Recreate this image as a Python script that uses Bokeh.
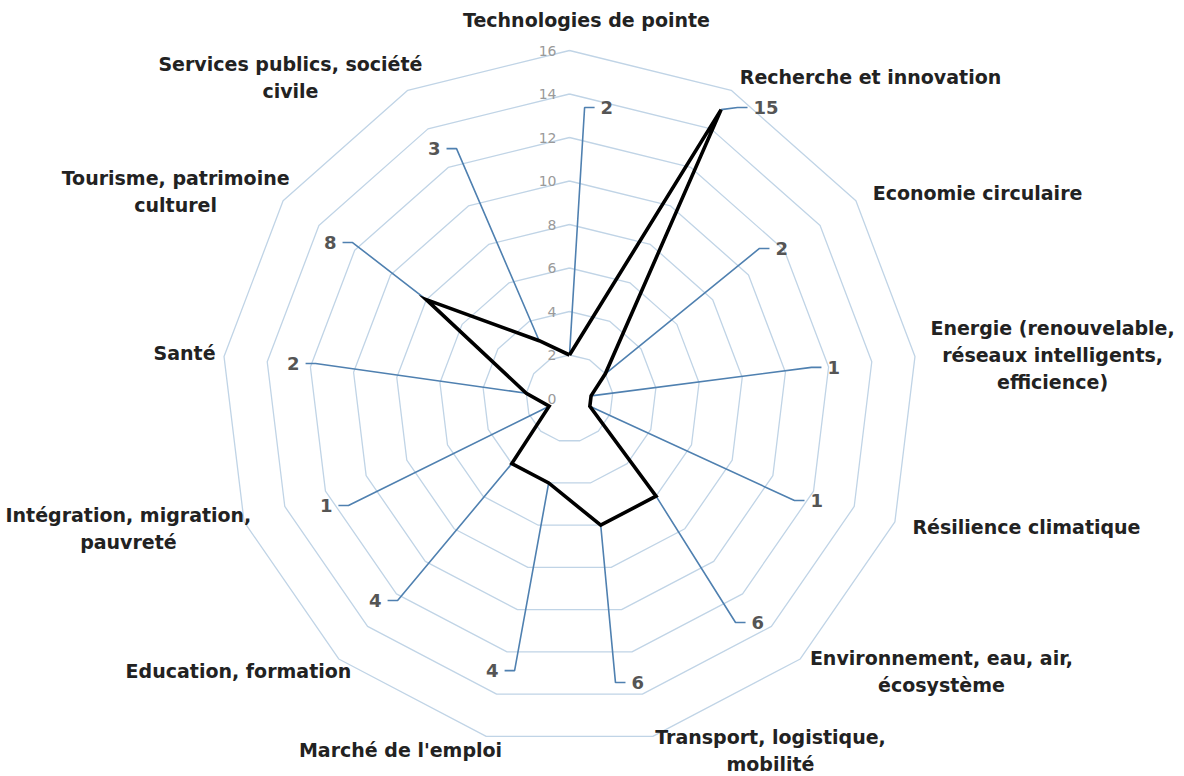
import numpy as np
from bokeh.plotting import figure
from bokeh.models import Range1d
from bokeh.embed import file_html
from bokeh.resources import INLINE
from bokeh.core.properties import value

# ---------------- data ----------------
categories = [
    "Technologies de pointe",
    "Recherche et innovation",
    "Economie circulaire",
    "Energie (renouvelable,\nréseaux intelligents,\nefficience)",
    "Résilience climatique",
    "Environnement, eau, air,\nécosystème",
    "Transport, logistique,\nmobilité",
    "Marché de l'emploi",
    "Education, formation",
    "Intégration, migration,\npauvreté",
    "Santé",
    "Tourisme, patrimoine\nculturel",
    "Services publics, société\ncivile",
]
values = [2, 15, 2, 1, 1, 6, 6, 4, 4, 1, 2, 8, 3]
ring_levels = [2, 4, 6, 8, 10, 12, 14, 16]
tick_values = [0, 2, 4, 6, 8, 10, 12, 14, 16]
tick_labels = ["0", "2", "4", "6", "8", "10", "12", "14", "16"]

# ---------------- layout (positions in chart units) ----------------
# value-label anchor (edge of text nearest the leader line)
value_label_pos = [
    (1.43, 13.38), (8.46, 13.38), (9.47, 6.90), (11.86, 1.43), (11.08, -4.69),
    (8.37, -10.30), (2.85, -13.06), (-3.26, -12.51), (-8.64, -9.29),
    (-10.90, -4.92), (-12.41, 1.61), (-10.71, 7.17), (-5.93, 11.49),
]
# category label block centres
cat_label_pos = [
    (0.78, 17.38), (13.84, 14.76), (18.76, 9.43), (22.21, 1.98), (21.01, -5.93),
    (17.10, -12.57), (9.24, -16.18), (-7.77, -16.18), (-15.22, -12.51),
    (-20.28, -5.98), (-17.70, 2.07), (-18.11, 9.52), (-12.83, 14.78),
]

PX = 21.75          # pixels per unit
CX, CY = 569, 398   # centre of the radar in page pixels
W, H = 1184, 776

p = figure(width=W, height=H, output_backend="svg", toolbar_location=None,
           x_range=Range1d((0 - CX) / PX, (W - CX) / PX),
           y_range=Range1d((CY - H) / PX, CY / PX),
           min_border=0)
p.axis.visible = False
p.grid.visible = False
p.outline_line_color = None
p.background_fill_color = "white"
p.border_fill_color = "white"

n = len(categories)
theta = np.arange(n) * 2 * np.pi / n

# grid rings
ring_xs, ring_ys = [], []
for r in ring_levels:
    ring_xs.append(list(r * np.sin(theta)) + [r * np.sin(theta[0])])
    ring_ys.append(list(r * np.cos(theta)) + [r * np.cos(theta[0])])
p.multi_line(ring_xs, ring_ys, line_color="#c0d4e6", line_width=1.3)

# radial tick labels
p.text(x=[-13 / PX] * len(tick_values), y=tick_values, text=tick_labels,
       text_align="right", text_baseline="middle", text_color="#9a9a9a",
       text_font=value("DejaVu Sans"), text_font_size="14px")

# data points
vals = np.array(values, dtype=float)
dx = vals * np.sin(theta)
dy = vals * np.cos(theta)

# leader lines
lead_xs, lead_ys = [], []
for i in range(n):
    lx, ly = value_label_pos[i]
    s = 1 if lx >= 0 else -1
    lead_xs.append([dx[i], lx - s * 16 / PX, lx - s * 6 / PX])
    lead_ys.append([dy[i], ly, ly])
p.multi_line(lead_xs, lead_ys, line_color="#4f80b0", line_width=1.6)

# data polygon
p.line(list(dx) + [dx[0]], list(dy) + [dy[0]], line_color="black", line_width=3.6,
       line_join="miter")

# value labels
for i in range(n):
    lx, ly = value_label_pos[i]
    p.text(x=[lx], y=[ly], text=[str(values[i])],
           text_align="left" if lx >= 0 else "right", text_baseline="middle",
           text_color="#555555", text_font=value("DejaVu Sans"),
           text_font_style="bold", text_font_size="18px")

# category labels
for i, name in enumerate(categories):
    cx, cy = cat_label_pos[i]
    lines = name.split("\n")
    m = len(lines)
    for j, line in enumerate(lines):
        off = (j - (m - 1) / 2) * 27
        p.text(x=[cx], y=[cy], text=[line], y_offset=off,
               text_align="center", text_baseline="middle",
               text_color="#222222", text_font=value("DejaVu Sans"),
               text_font_style="bold", text_font_size="19px")

open("out.html", "w").write(file_html(p, INLINE))
